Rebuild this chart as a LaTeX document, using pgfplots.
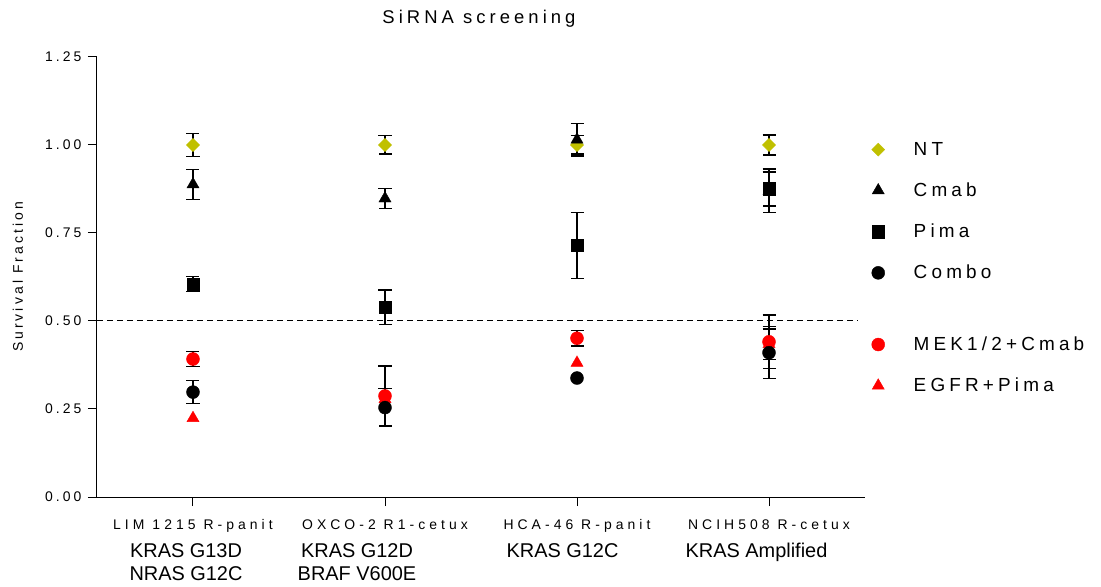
\documentclass[border=0pt]{standalone}
\usepackage{fontspec}
\setmainfont{Liberation Sans}
\newfontfamily\spfont[LetterSpace=22]{Liberation Sans}
\newfontfamily\xlspfont[LetterSpace=29]{Liberation Sans}
\usepackage{pgfplots}
\pgfplotsset{compat=1.18}
\definecolor{ntyel}{RGB}{192,192,0}
\newcommand{\lsfont}{\spfont\fontsize{14}{16}\selectfont}
\newcommand{\xlfont}{\xlspfont\fontsize{14}{16}\selectfont}
\newcommand{\legfont}{\spfont\fontsize{19}{22}\selectfont}
\newcommand{\ttlfont}{\spfont\fontsize{18.5}{22}\selectfont}

\begin{document}
\begin{tikzpicture}
\path[use as bounding box] (-97bp,-90bp) rectangle (1004bp,497bp);
\begin{axis}[
  at={(0,0)}, anchor=south west,
  scale only axis, width=768bp, height=440bp,
  xmin=0.5, xmax=4.5, ymin=0, ymax=1.25,
  axis x line*=bottom, axis y line*=left,
  axis line style={line width=1bp, -},
  tick style={line width=1bp, black},
  tick align=outside, major tick length=9bp,
  xtick={1,2,3,4},
  xticklabels={
    {{\xlfont LIM 1215 R-panit}\\[5bp]\mbox{KRAS G13D\hspace*{14bp}}\\\mbox{NRAS G12C\hspace*{14bp}}},
    {{\xlfont OXCO-2 R1-cetux}\\[5bp]\mbox{KRAS G12D\hspace*{56bp}}\\\mbox{BRAF V600E\hspace*{56bp}}},
    {{\xlfont HCA-46 R-panit}\\[5bp]\mbox{KRAS G12C\hspace*{29bp}}},
    {{\xlfont NCIH508 R-cetux}\\[5bp]\mbox{KRAS Amplified\hspace*{25bp}}}},
  xticklabel style={align=center, font=\fontsize{20}{23}\selectfont, anchor=north, yshift=-10bp},
  ytick={0,0.25,0.5,0.75,1,1.25},
  yticklabels={0.00,0.25,0.50,0.75,1.00,1.25},
  yticklabel style={font=\lsfont, xshift=-3bp},
  ylabel={Survival Fraction},
  ylabel style={font=\lsfont, at={([xshift=-79bp]axis description cs:0,0.5)}, anchor=center},
  title={SiRNA screening},
  title style={font=\ttlfont, at={(axis description cs:0.5,1)}, anchor=base, yshift=28bp, xshift=-2bp},
  clip=false,
  legend style={at={(axis description cs:1.0085,0.811)}, anchor=north west, draw=none, fill=none,
    font=\legfont, row sep=22bp, inner sep=0pt,
    /tikz/every odd column/.append style={column sep=27bp}},
  legend cell align=left,
  legend image code/.code={\draw[#1,/tikz/only marks] plot coordinates {(0bp,0bp)};},
  error bars/y dir=both, error bars/y explicit,
  error bars/error bar style={black, line width=1.3bp},
  error bars/error mark options={black, rotate=90, line width=1.3bp, mark size=6.5bp},
]
% legend
\addlegendimage{mark=square*, mark size=4.6bp, mark options={rotate=45, draw=ntyel, fill=ntyel}}
\addlegendentry{NT}
\addlegendimage{mark=triangle*, mark size=7bp, mark options={draw=black, fill=black}}
\addlegendentry{Cmab}
\addlegendimage{mark=square*, mark size=6.3bp, mark options={draw=black, fill=black}}
\addlegendentry{Pima}
\addlegendimage{mark=*, mark size=6.5bp, mark options={draw=black, fill=black}}
\addlegendentry{Combo}
\addlegendimage{empty legend}
\addlegendentry{\rule{0pt}{3bp}}
\addlegendimage{mark=*, mark size=6.5bp, mark options={draw=red, fill=red}}
\addlegendentry{MEK1/2+Cmab}
\addlegendimage{mark=triangle*, mark size=7bp, mark options={draw=red, fill=red}}
\addlegendentry{EGFR+Pima}

% reference line
\addplot[forget plot, black, line width=1bp, dash pattern=on 6bp off 4bp] coordinates {(0.5,0.5) (4.46,0.5)};

% NT
\addplot[forget plot, only marks, mark=square*, mark size=4.6bp, mark options={rotate=45, draw=ntyel, fill=ntyel}]
  coordinates {(1,1.000) +- (0,0.032) (2,1.000) +- (0,0.026) (3,1.000) +- (0,0.026) (4,1.000) +- (0,0.028)};
% Cmab
\addplot[forget plot, only marks, mark=triangle*, mark size=7bp, mark options={draw=black, fill=black}]
  coordinates {(1,0.888) +- (0,0.042) (2,0.848) +- (0,0.028) (3,1.015) +- (0,0.046) (4,0.870) +- (0,0.062)};
% Pima
\addplot[forget plot, only marks, mark=square*, mark size=6.3bp, mark options={draw=black, fill=black}]
  coordinates {(1,0.605) +- (0,0.021) (2,0.539) +- (0,0.049) (3,0.715) +- (0,0.094) (4,0.875) +- (0,0.048)};
% EGFR+Pima
\addplot[forget plot, only marks, mark=triangle*, mark size=7bp, mark options={draw=red, fill=red}, error bars/y dir=none]
  coordinates {(1,0.224) (2,0.278) (3,0.381)};
\addplot[forget plot, only marks, mark=triangle*, mark size=7bp, mark options={draw=red, fill=red}]
  coordinates {(4,0.434) +- (0,0.043)};
% MEK1/2+Cmab
\addplot[forget plot, only marks, mark=*, mark size=6.5bp, mark options={draw=red, fill=red}]
  coordinates {(1,0.392) +- (0,0.022) (2,0.287) +- (0,0.085) (3,0.451) +- (0,0.022) (4,0.441) +- (0,0.076)};
% Combo
\addplot[forget plot, only marks, mark=*, mark size=6.5bp, mark options={draw=black, fill=black}]
  coordinates {(1,0.298) +- (0,0.033) (2,0.254) +- (0,0.054) (4,0.410) +- (0,0.074)};
\addplot[forget plot, only marks, mark=*, mark size=6.5bp, mark options={draw=black, fill=black}, error bars/y dir=none]
  coordinates {(3,0.338)};
\end{axis}
\end{tikzpicture}
\end{document}
